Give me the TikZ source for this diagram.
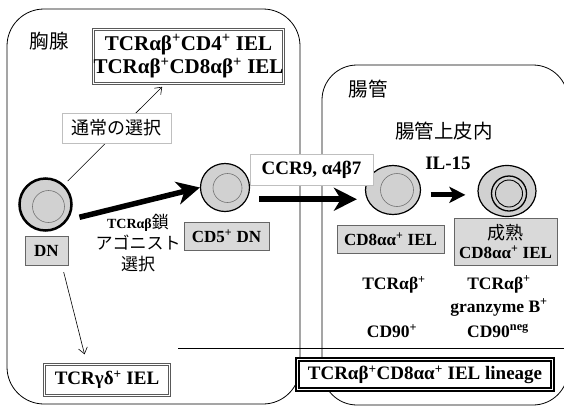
\documentclass[tikz,border=0pt]{standalone}
\usepackage{fontspec}
\setmainfont{Liberation Serif}
\newfontfamily\jp{Noto Sans CJK JP}
\usetikzlibrary{calc,shapes,arrows.meta}

\tikzset{
  cell/.style={ellipse,draw,fill=black!18,inner sep=0pt},
  greybox/.style={draw=black!60,fill=black!15,line width=0.8pt,inner sep=0pt,
    font=\bfseries\fontsize{17}{19}\selectfont},
  plainbox/.style={draw=black!25,fill=white,line width=0.6pt,inner sep=0pt},
  dblbox/.style={draw=black!65,double=white,double distance=1.6pt,line width=1pt,
    fill=white,inner sep=0pt,font=\bfseries\fontsize{19}{21}\selectfont},
  bigtxt/.style={font=\bfseries\fontsize{19}{21}\selectfont},
  midtxt/.style={font=\bfseries\fontsize{17.5}{23}\selectfont},
  jptxt/.style={font=\jp\fontsize{19.5}{22}\selectfont},
  bigarrow/.style={line width=5.5pt,-{Stealth[length=23pt,width=23pt,inset=7pt]}},
  thinarrow/.style={line width=0.6pt,-{Straight Barb[length=6pt,width=9pt]}},
}

\begin{document}
\begin{tikzpicture}[x=1pt,y=-1pt]
  \useasboundingbox (0,0) rectangle (564,405);
  \clip (0,0) rectangle (564,405);

  %% thymus and gut
  \draw[rounded corners=37pt, line width=0.8pt] (7,9) rectangle (300,404);
  \draw[rounded corners=35pt, line width=0.8pt] (322,65) rectangle (568,405);
  \draw[line width=0.8pt] (178,348) -- (564,348);

  \node[jptxt] (thymus) at (49,41) {胸腺};
  \node[jptxt] (gut) at (368,89) {腸管};
  \node[jptxt] (epi) at (444,131) {腸管上皮内};

  %% outcome boxes
  \node[dblbox, align=center, minimum width=188pt, minimum height=54pt, font=\bfseries\fontsize{21}{23.5}\selectfont]
    (topbox) at (188.5,56.5) {TCRαβ\textsuperscript{+}CD4\textsuperscript{+} IEL\\TCRαβ\textsuperscript{+}CD8αβ\textsuperscript{+} IEL};
  \node[dblbox, minimum width=125pt, minimum height=31pt] (gdbox) at (107,380) {TCRγδ\textsuperscript{+} IEL};
  \node[dblbox, draw=black, line width=1.6pt, double distance=1.8pt, minimum width=255pt, minimum height=30pt]
    (linbox) at (425,374.5) {TCRαβ\textsuperscript{+}CD8αα\textsuperscript{+} IEL lineage};

  %% cells
  \node[cell, line width=2.5pt, minimum width=52pt, minimum height=52pt] (dncell) at (45.5,204.5) {};
  \draw[black!55, line width=0.6pt] ($(dncell)+(3,2)$) circle (16);
  \node[cell, line width=1.2pt, minimum width=49pt, minimum height=48pt] (cd5cell) at (225,187.5) {};
  \draw[black!55, line width=0.6pt] ($(cd5cell)+(2.5,0.5)$) circle (14.5);
  \node[cell, line width=1.2pt, minimum width=55pt, minimum height=49pt] (cellA) at (393,190) {};
  \draw[black!55, line width=0.6pt] ($(cellA)+(4,0)$) circle (16.5);
  \node[cell, line width=1.2pt, minimum width=58pt, minimum height=51pt] (cellB) at (507,191) {};
  \draw[line width=1.3pt] ($(cellB)+(2,2.5)$) circle (17.5);
  \draw[line width=0.9pt] ($(cellB)+(2,2.5)$) circle (13.5);

  %% labels under the cells
  \node[greybox, minimum width=43pt, minimum height=29pt] (dnlbl) at (46.5,250.5) {DN};
  \node[greybox, minimum width=85pt, minimum height=28pt] (cd5lbl) at (226.5,236) {CD5\textsuperscript{+} DN};
  \node[greybox, minimum width=107pt, minimum height=28pt] (cdAlbl) at (390.5,239) {CD8αα\textsuperscript{+} IEL};
  \node[greybox, align=center, minimum width=103pt, minimum height=47pt] (cdBlbl) at (505.5,241.5)
    {{\jp\mdseries\fontsize{18}{19}\selectfont 成熟}\\CD8αα\textsuperscript{+} IEL};

  %% thin arrows
  \draw[thinarrow, shorten <=5pt, shorten >=4pt] (dncell.47) -- ([xshift=-23.5pt]topbox.south);
  \node[plainbox, minimum width=109pt, minimum height=30pt, font=\jp\fontsize{18}{20}\selectfont]
    (selbox) at (116.5,128) {通常の選択};
  \draw[thinarrow, shorten <=7pt, shorten >=10pt] ([xshift=15.5pt]dnlbl.south) -- ([xshift=-20pt]gdbox.north);

  %% thick arrows
  \draw[bigarrow, shorten <=12pt] (dncell.-35) -- (cd5cell.west);
  \node[align=center, font=\jp\fontsize{17}{21}\selectfont] (agon) at (138,243)
    {{\rmfamily\bfseries\fontsize{14}{21}\selectfont TCRαβ}鎖\\アゴニスト\\選択};
  \draw[bigarrow, shorten <=12pt, shorten >=8pt] (cd5cell.-28) -- (cd5cell.-28 -| cellA.west);
  \node[plainbox, minimum width=123pt, minimum height=31pt, bigtxt] (ccrbox) at (311.5,169.5) {CCR9, α4β7};
  \draw[line width=5pt, -{Stealth[length=16pt,width=16pt,inset=4pt]}, shorten <=10pt, shorten >=12pt]
    (cellA.-10) -- (cellA.-10 -| cellB.west);
  \node[bigtxt] (il15) at (448,163) {IL-15};

  %% markers
  \node[midtxt] (tcrA) at (394,285) {TCRαβ\textsuperscript{+}};
  \node[midtxt, align=center] (tcrB) at (499,296) {TCRαβ\textsuperscript{+}\\granzyme B\textsuperscript{+}};
  \node[midtxt] (cdA) at (392,331) {CD90\textsuperscript{+}};
  \node[midtxt] (cdB) at (498,331) {CD90\textsuperscript{neg}};
\end{tikzpicture}
\end{document}
